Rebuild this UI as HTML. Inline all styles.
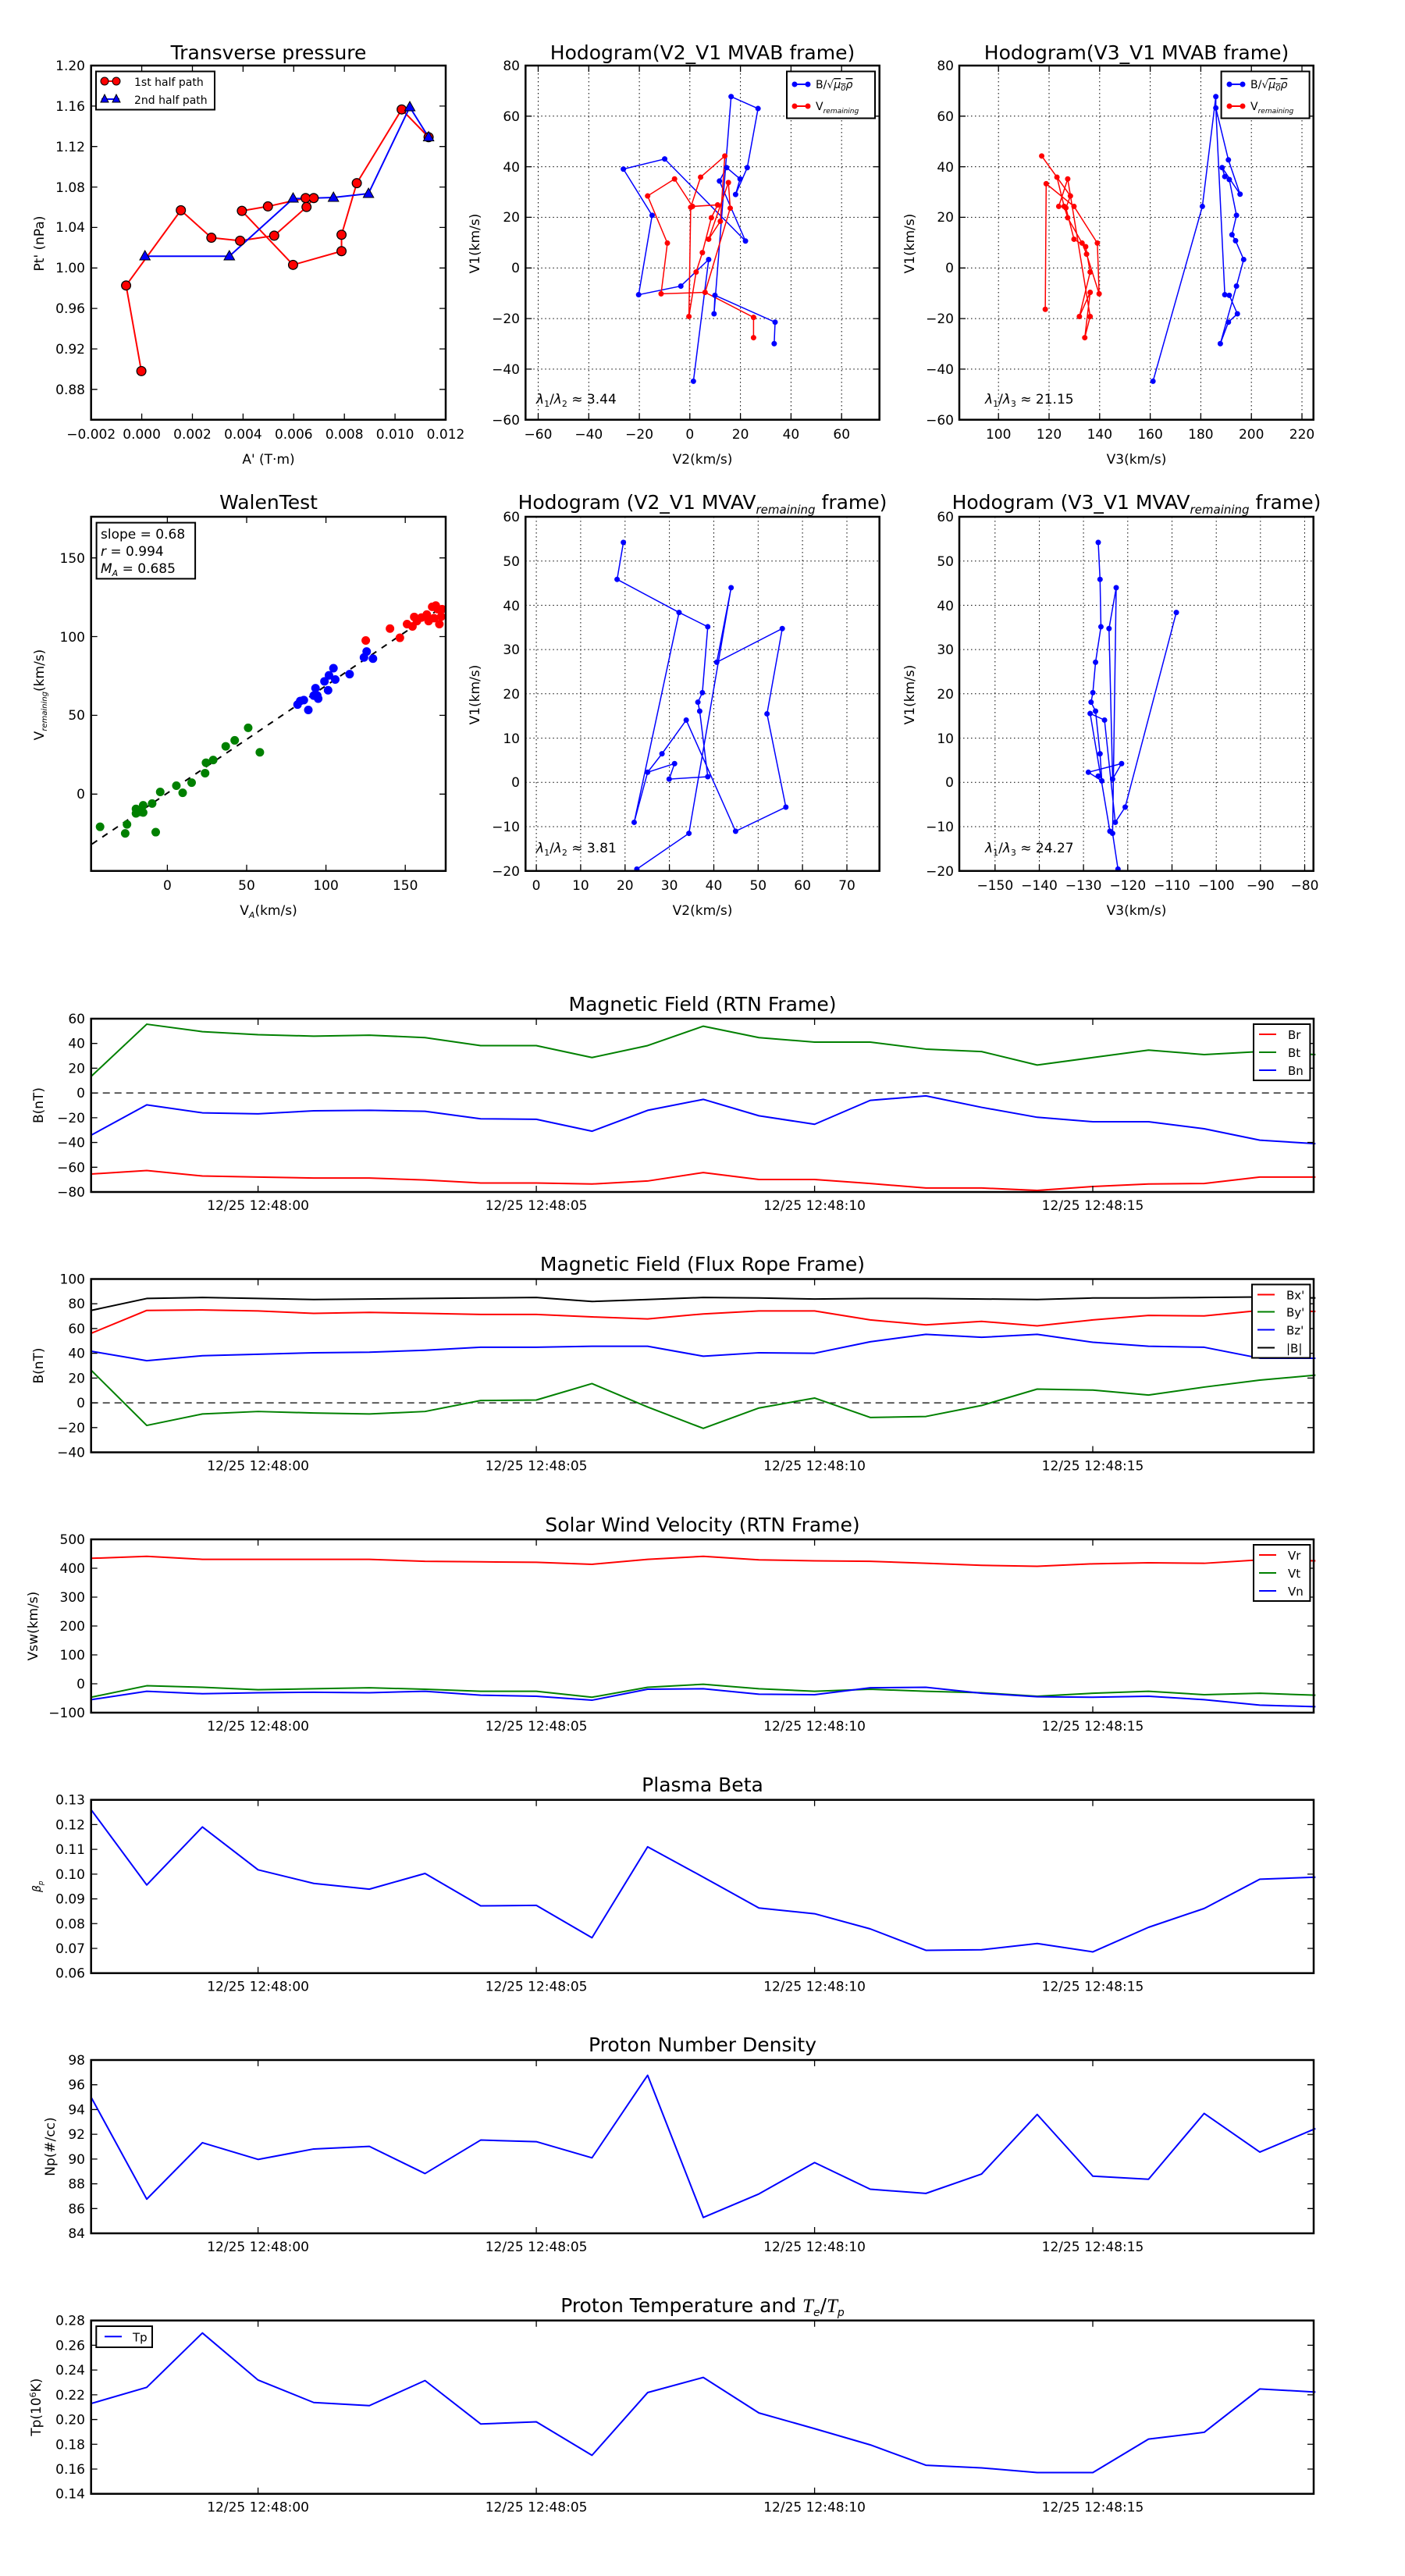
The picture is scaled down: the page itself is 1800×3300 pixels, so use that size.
<!DOCTYPE html>
<html><head><meta charset="utf-8"><style>
html,body{margin:0;padding:0;background:#fff}
svg{display:block}
text{font-family:"DejaVu Sans","Liberation Sans",sans-serif;fill:#000}
.tk{font-size:17px}
.tl{font-size:25px}
.yl{font-size:17px}
.ln{fill:none;stroke-width:2;vector-effect:non-scaling-stroke;stroke-linejoin:round}
.thin{fill:none;stroke-width:1.5;vector-effect:non-scaling-stroke}
.dot{fill:none;stroke-linecap:round;vector-effect:non-scaling-stroke}
.ax{fill:none;stroke:#000;stroke-width:2.5}
.tick{fill:none;stroke:#000;stroke-width:1.3}
.grid{fill:none;stroke:#000;stroke-width:1;stroke-dasharray:1.5,3.5}
</style></head><body>
<svg width="1800" height="3300" viewBox="0 0 1800 3300" xmlns="http://www.w3.org/2000/svg">
<rect width="1800" height="3300" fill="#fff"/>

<!-- ================= ROW 1 ================= -->
<!-- Transverse pressure -->
<text class="tl" x="344" y="76" text-anchor="middle">Transverse pressure</text>
<path class="tick" d="M181.6,537.7v-8M246.5,537.7v-8M311.4,537.7v-8M376.3,537.7v-8M441.2,537.7v-8M506.1,537.7v-8M181.6,84v8M246.5,84v8M311.4,84v8M376.3,84v8M441.2,84v8M506.1,84v8
M116.7,135.9h8M116.7,187.7h8M116.7,239.6h8M116.7,291.4h8M116.7,343.3h8M116.7,395.1h8M116.7,447h8M116.7,498.8h8
M571,135.9h-8M571,187.7h-8M571,239.6h-8M571,291.4h-8M571,343.3h-8M571,395.1h-8M571,447h-8M571,498.8h-8"/>
<g class="tk" text-anchor="end">
<text x="109" y="90">1.20</text><text x="109" y="142">1.16</text><text x="109" y="194">1.12</text><text x="109" y="246">1.08</text><text x="109" y="297">1.04</text><text x="109" y="349">1.00</text><text x="109" y="401">0.96</text><text x="109" y="453">0.92</text><text x="109" y="505">0.88</text>
</g>
<g class="tk" text-anchor="middle">
<text x="116.7" y="562">−0.002</text><text x="181.6" y="562">0.000</text><text x="246.5" y="562">0.002</text><text x="311.4" y="562">0.004</text><text x="376.3" y="562">0.006</text><text x="441.2" y="562">0.008</text><text x="506.1" y="562">0.010</text><text x="571" y="562">0.012</text>
</g>
<text class="yl" x="344" y="594" text-anchor="middle">A' (T·m)</text>
<text class="yl" transform="translate(56,312) rotate(-90)" text-anchor="middle">Pt' (nPa)</text>

<g transform="matrix(1.15,0,0,0.3822,-0.6,0.7)">
<polyline class="ln" stroke="#f00" points="158,1242 141,955 202,703 236,795 268,805 306,788 342,692 350,662 341,662 299,690 270,705 327,886 381,840 381,785 398,612 448,365 478,458"/>
<polyline class="ln" stroke="#00f" points="162,857 256,857 327,664 372,660 411,647 457,357 478,458"/>
<path class="dot" stroke="#000" stroke-width="13" d="M158,1242h0M141,955h0M202,703h0M236,795h0M268,805h0M306,788h0M342,692h0M350,662h0M341,662h0M299,690h0M270,705h0M327,886h0M381,840h0M381,785h0M398,612h0M448,365h0M478,458h0"/>
<path class="dot" stroke="#f00" stroke-width="10.5" d="M158,1242h0M141,955h0M202,703h0M236,795h0M268,805h0M306,788h0M342,692h0M350,662h0M341,662h0M299,690h0M270,705h0M327,886h0M381,840h0M381,785h0M398,612h0M448,365h0M478,458h0"/>
</g>
<g fill="#00f" stroke="#000" stroke-width="1">
<polygon points="185.7,321 179,333 192.4,333"/>
<polygon points="293.8,321 287,333 300.6,333"/>
<polygon points="375.5,247 368.8,259 382.2,259"/>
<polygon points="427.2,246 420.5,258 433.9,258"/>
<polygon points="472.1,241 465.4,253 478.8,253"/>
<polygon points="525,130 518.3,142 531.7,142"/>
<polygon points="549.1,168.5 542.4,180.5 555.8,180.5"/>
</g>
<rect class="ax" x="116.7" y="84" width="454.3" height="453.7"/>
<rect x="123" y="91.5" width="152" height="49" fill="#fff" stroke="#000" stroke-width="2"/>
<line x1="130" y1="104" x2="153" y2="104" stroke="#f00" stroke-width="2"/>
<ellipse cx="134" cy="104" rx="5" ry="5" fill="#f00" stroke="#000"/><ellipse cx="149" cy="104" rx="5" ry="5" fill="#f00" stroke="#000"/>
<text x="172" y="110" font-size="14">1st half path</text>
<line x1="130" y1="127" x2="153" y2="127" stroke="#00f" stroke-width="2"/>
<polygon points="134,121 129,131 139,131" fill="#00f" stroke="#000"/><polygon points="149,121 144,131 154,131" fill="#00f" stroke="#000"/>
<text x="172" y="133" font-size="14">2nd half path</text>

<!-- Hodogram V2_V1 MVAB -->
<text class="tl" x="900" y="76" text-anchor="middle">Hodogram(V2_V1 MVAB frame)</text>
<path class="grid" d="M689.5,84V537.7M754.3,84V537.7M819.1,84V537.7M883.8,84V537.7M948.6,84V537.7M1013.4,84V537.7M1078.2,84V537.7M673.3,148.8H1126.7M673.3,213.6H1126.7M673.3,278.4H1126.7M673.3,343.3H1126.7M673.3,408.1H1126.7M673.3,472.9H1126.7"/>
<path class="tick" d="M689.5,537.7v-8M754.3,537.7v-8M819.1,537.7v-8M883.8,537.7v-8M948.6,537.7v-8M1013.4,537.7v-8M1078.2,537.7v-8M689.5,84v8M754.3,84v8M819.1,84v8M883.8,84v8M948.6,84v8M1013.4,84v8M1078.2,84v8
M673.3,148.8h8M673.3,213.6h8M673.3,278.4h8M673.3,343.3h8M673.3,408.1h8M673.3,472.9h8M1126.7,148.8h-8M1126.7,213.6h-8M1126.7,278.4h-8M1126.7,343.3h-8M1126.7,408.1h-8M1126.7,472.9h-8"/>
<g class="tk" text-anchor="end">
<text x="666" y="90">80</text><text x="666" y="155">60</text><text x="666" y="220">40</text><text x="666" y="284">20</text><text x="666" y="349">0</text><text x="666" y="414">−20</text><text x="666" y="479">−40</text><text x="666" y="544">−60</text>
</g>
<g class="tk" text-anchor="middle">
<text x="689.5" y="562">−60</text><text x="754.3" y="562">−40</text><text x="819.1" y="562">−20</text><text x="883.8" y="562">0</text><text x="948.6" y="562">20</text><text x="1013.4" y="562">40</text><text x="1078.2" y="562">60</text>
</g>
<text class="yl" x="900" y="594" text-anchor="middle">V2(km/s)</text>
<text class="yl" transform="translate(614,312) rotate(-90)" text-anchor="middle">V1(km/s)</text>
<g transform="matrix(1.15,0,0,0.3822,-0.6,0.7)">
<polyline class="thin" stroke="#00f" points="773,1276 790,868 759,957 712,986 727,720 695,565 741,531 831,806 802,605 810,560 825,598 820,650 833,560 845,362 815,322 796,1050 797,988 864,1078 863,1150"/>
<polyline class="thin" stroke="#f00" points="840,1130 840,1062 786,978 737,983 744,813 722,655 752,598 772,690 800,685 793,728 783,845 776,910 768,1059 770,693 781,592 808,521 803,740 790,800 812,610 814,696 786,978"/>
<path class="dot" stroke="#00f" stroke-width="7" d="M773,1276h0M790,868h0M759,957h0M712,986h0M727,720h0M695,565h0M741,531h0M831,806h0M802,605h0M810,560h0M825,598h0M820,650h0M833,560h0M845,362h0M815,322h0M796,1050h0M797,988h0M864,1078h0M863,1150h0"/>
<path class="dot" stroke="#f00" stroke-width="7" d="M840,1130h0M840,1062h0M786,978h0M737,983h0M744,813h0M722,655h0M752,598h0M772,690h0M800,685h0M793,728h0M783,845h0M776,910h0M768,1059h0M770,693h0M781,592h0M808,521h0M803,740h0M790,800h0M812,610h0M814,696h0"/>
</g>
<rect class="ax" x="673.3" y="84" width="453.4" height="453.7"/>
<rect x="1008" y="91.5" width="113" height="60" fill="#fff" stroke="#000" stroke-width="2"/>
<line x1="1015" y1="108" x2="1038" y2="108" stroke="#00f" stroke-width="2"/><circle cx="1018" cy="108" r="3.5" fill="#00f"/><circle cx="1035" cy="108" r="3.5" fill="#00f"/>
<text x="1045" y="113" font-size="14">B/√<tspan font-style="italic" text-decoration="overline">μ<tspan font-size="10" dy="3">0</tspan><tspan dy="-3">ρ</tspan></tspan></text>
<line x1="1015" y1="136" x2="1038" y2="136" stroke="#f00" stroke-width="2"/><circle cx="1018" cy="136" r="3.5" fill="#f00"/><circle cx="1035" cy="136" r="3.5" fill="#f00"/>
<text x="1045" y="141" font-size="14">V<tspan font-size="9" font-style="italic" dy="4">remaining</tspan></text>
<text x="687" y="517" font-size="17"><tspan font-style="italic">λ</tspan><tspan font-size="11" dy="4">1</tspan><tspan dy="-4">/</tspan><tspan font-style="italic">λ</tspan><tspan font-size="11" dy="4">2</tspan><tspan dy="-4"> ≈ 3.44</tspan></text>

<!-- Hodogram V3_V1 MVAB -->
<text class="tl" x="1456" y="76" text-anchor="middle">Hodogram(V3_V1 MVAB frame)</text>
<path class="grid" d="M1279.2,84V537.7M1344,84V537.7M1408.8,84V537.7M1473.6,84V537.7M1538.4,84V537.7M1603.2,84V537.7M1668,84V537.7M1229,148.8H1682.7M1229,213.6H1682.7M1229,278.4H1682.7M1229,343.3H1682.7M1229,408.1H1682.7M1229,472.9H1682.7"/>
<path class="tick" d="M1279.2,537.7v-8M1344,537.7v-8M1408.8,537.7v-8M1473.6,537.7v-8M1538.4,537.7v-8M1603.2,537.7v-8M1668,537.7v-8M1279.2,84v8M1344,84v8M1408.8,84v8M1473.6,84v8M1538.4,84v8M1603.2,84v8M1668,84v8
M1229,148.8h8M1229,213.6h8M1229,278.4h8M1229,343.3h8M1229,408.1h8M1229,472.9h8M1682.7,148.8h-8M1682.7,213.6h-8M1682.7,278.4h-8M1682.7,343.3h-8M1682.7,408.1h-8M1682.7,472.9h-8"/>
<g class="tk" text-anchor="end">
<text x="1222" y="90">80</text><text x="1222" y="155">60</text><text x="1222" y="220">40</text><text x="1222" y="284">20</text><text x="1222" y="349">0</text><text x="1222" y="414">−20</text><text x="1222" y="479">−40</text><text x="1222" y="544">−60</text>
</g>
<g class="tk" text-anchor="middle">
<text x="1279.2" y="562">100</text><text x="1344" y="562">120</text><text x="1408.8" y="562">140</text><text x="1473.6" y="562">160</text><text x="1538.4" y="562">180</text><text x="1603.2" y="562">200</text><text x="1668" y="562">220</text>
</g>
<text class="yl" x="1456" y="594" text-anchor="middle">V3(km/s)</text>
<text class="yl" transform="translate(1171,312) rotate(-90)" text-anchor="middle">V1(km/s)</text>
<g transform="matrix(1.15,0,0,0.3822,-0.6,0.7)">
<polyline class="thin" stroke="#00f" points="1285,1276 1340,690 1355,322 1355,360 1365,986 1370,988 1379,1050 1369,1078 1360,1150 1378,957 1386,868 1377,805 1373,785 1378,720 1370,600 1365,590 1362,560 1382,649 1369,534 1355,360"/>
<polyline class="thin" stroke="#f00" points="1165,1035 1166,614 1197,690 1223,813 1225,983 1211,850 1206,813 1190,728 1186,690 1178,592 1161,521 1193,655 1188,695 1197,800 1210,825 1215,910 1203,1059 1215,978 1209,1130 1215,1059 1190,598 1180,690"/>
<path class="dot" stroke="#00f" stroke-width="7" d="M1285,1276h0M1340,690h0M1355,322h0M1355,360h0M1365,986h0M1370,988h0M1379,1050h0M1369,1078h0M1360,1150h0M1378,957h0M1386,868h0M1377,805h0M1373,785h0M1378,720h0M1370,600h0M1365,590h0M1362,560h0M1382,649h0M1369,534h0"/>
<path class="dot" stroke="#f00" stroke-width="7" d="M1165,1035h0M1166,614h0M1197,690h0M1223,813h0M1225,983h0M1211,850h0M1206,813h0M1190,728h0M1186,690h0M1178,592h0M1161,521h0M1193,655h0M1188,695h0M1197,800h0M1210,825h0M1215,910h0M1203,1059h0M1215,978h0M1209,1130h0M1215,1059h0M1190,598h0M1180,690h0"/>
</g>
<rect class="ax" x="1229" y="84" width="453.7" height="453.7"/>
<rect x="1564.6" y="91.5" width="113" height="60" fill="#fff" stroke="#000" stroke-width="2"/>
<line x1="1572" y1="108" x2="1595" y2="108" stroke="#00f" stroke-width="2"/><circle cx="1575" cy="108" r="3.5" fill="#00f"/><circle cx="1592" cy="108" r="3.5" fill="#00f"/>
<text x="1602" y="113" font-size="14">B/√<tspan font-style="italic" text-decoration="overline">μ<tspan font-size="10" dy="3">0</tspan><tspan dy="-3">ρ</tspan></tspan></text>
<line x1="1572" y1="136" x2="1595" y2="136" stroke="#f00" stroke-width="2"/><circle cx="1575" cy="136" r="3.5" fill="#f00"/><circle cx="1592" cy="136" r="3.5" fill="#f00"/>
<text x="1602" y="141" font-size="14">V<tspan font-size="9" font-style="italic" dy="4">remaining</tspan></text>
<text x="1262" y="517" font-size="17"><tspan font-style="italic">λ</tspan><tspan font-size="11" dy="4">1</tspan><tspan dy="-4">/</tspan><tspan font-style="italic">λ</tspan><tspan font-size="11" dy="4">3</tspan><tspan dy="-4"> ≈ 21.15</tspan></text>

<!-- ================= ROW 2 ================= -->
<!-- Walen -->
<text class="tl" x="344" y="652" text-anchor="middle">WalenTest</text>
<path class="tick" d="M214.4,1115.7v-8M316,1115.7v-8M417.6,1115.7v-8M519.2,1115.7v-8M214.4,662v8M316,662v8M417.6,662v8M519.2,662v8
M116.7,714.7h8M116.7,815.5h8M116.7,916.4h8M116.7,1017.3h8M571,714.7h-8M571,815.5h-8M571,916.4h-8M571,1017.3h-8"/>
<g class="tk" text-anchor="end">
<text x="109" y="721">150</text><text x="109" y="822">100</text><text x="109" y="922">50</text><text x="109" y="1023">0</text>
</g>
<g class="tk" text-anchor="middle">
<text x="214.4" y="1140">0</text><text x="316" y="1140">50</text><text x="417.6" y="1140">100</text><text x="519.2" y="1140">150</text>
</g>
<text class="yl" x="344" y="1172" text-anchor="middle">V<tspan font-size="11" font-style="italic" dy="4">A</tspan><tspan dy="-4">(km/s)</tspan></text>
<text class="yl" transform="translate(56,890) rotate(-90)" text-anchor="middle">V<tspan font-size="10" font-style="italic" dy="4">remaining</tspan><tspan dy="-4">(km/s)</tspan></text>
<g transform="matrix(1.15,0,0,0.3819,-0.6,600.9)">
<line x1="103" y1="1258" x2="493" y2="463" stroke="#000" stroke-width="2" stroke-dasharray="8,8" vector-effect="non-scaling-stroke"/>
<path class="dot" stroke="#008000" stroke-width="11" d="M112,1200h0M140,1222h0M142,1192h0M152,1155h0M160,1128h0M160,1152h0M170,1122h0M174,1218h0M179,1083h0M197,1062h0M204,1086h0M214,1052h0M229,1020h0M230,985h0M238,976h0M252,930h0M262,910h0M277,868h0M290,950h0M152,1140h0M156,1150h0"/>
<path class="dot" stroke="#00f" stroke-width="11" d="M332,790h0M335,778h0M339,775h0M344,808h0M350,760h0M352,735h0M354,760h0M355,770h0M362,712h0M366,742h0M367,692h0M372,668h0M374,706h0M390,688h0M406,632h0M409,612h0M416,636h0"/>
<path class="dot" stroke="#f00" stroke-width="11" d="M408,575h0M435,535h0M446,566h0M454,520h0M460,528h0M462,496h0M465,510h0M470,498h0M476,488h0M482,462h0M484,500h0M488,470h0M490,520h0M492,495h0M493,470h0M478,510h0M486,458h0"/>
</g>
<rect x="571.5" y="650" width="20" height="480" fill="#fff"/>
<rect x="100" y="1116.5" width="470" height="8" fill="#fff"/>
<rect class="ax" x="116.7" y="662" width="454.3" height="453.7"/>
<rect x="123.6" y="669.6" width="126.5" height="71.8" fill="#fff" stroke="#000" stroke-width="2"/>
<text x="129" y="690" font-size="17">slope = 0.68</text>
<text x="129" y="712" font-size="17"><tspan font-style="italic">r</tspan> = 0.994</text>
<text x="129" y="734" font-size="17"><tspan font-style="italic">M</tspan><tspan font-size="11" font-style="italic" dy="4">A</tspan><tspan dy="-4"> = 0.685</tspan></text>

<!-- Hodogram V2_V1 MVAV -->
<text class="tl" x="900" y="652" text-anchor="middle">Hodogram (V2_V1 MVAV<tspan font-size="15" font-style="italic" dy="6">remaining</tspan><tspan dy="-6"> frame)</tspan></text>
<path class="grid" d="M687.1,662V1115.7M743.9,662V1115.7M800.8,662V1115.7M857.6,662V1115.7M914.5,662V1115.7M971.3,662V1115.7M1028.1,662V1115.7M1085,662V1115.7
M673.3,718.7H1126.7M673.3,775.4H1126.7M673.3,832.1H1126.7M673.3,888.8H1126.7M673.3,945.6H1126.7M673.3,1002.3H1126.7M673.3,1059H1126.7"/>
<path class="tick" d="M687.1,1115.7v-8M743.9,1115.7v-8M800.8,1115.7v-8M857.6,1115.7v-8M914.5,1115.7v-8M971.3,1115.7v-8M1028.1,1115.7v-8M1085,1115.7v-8"/>
<g class="tk" text-anchor="end">
<text x="666" y="668">60</text><text x="666" y="725">50</text><text x="666" y="782">40</text><text x="666" y="838">30</text><text x="666" y="895">20</text><text x="666" y="952">10</text><text x="666" y="1008">0</text><text x="666" y="1065">−10</text><text x="666" y="1122">−20</text>
</g>
<g class="tk" text-anchor="middle">
<text x="687.1" y="1140">0</text><text x="743.9" y="1140">10</text><text x="800.8" y="1140">20</text><text x="857.6" y="1140">30</text><text x="914.5" y="1140">40</text><text x="971.3" y="1140">50</text><text x="1028.1" y="1140">60</text><text x="1085" y="1140">70</text>
</g>
<text class="yl" x="900" y="1172" text-anchor="middle">V2(km/s)</text>
<text class="yl" transform="translate(614,890) rotate(-90)" text-anchor="middle">V1(km/s)</text>
<g transform="matrix(1.15,0,0,0.3819,-0.6,600.9)">
<polyline class="thin" stroke="#00f" points="695,246 688,370 757,481 789,529 783,750 778,782 780,812 789,1032 746,1040 752,988 722,1017 738,955 765,842 820,1215 876,1134 855,821 872,535 799,648 815,398 768,1222 710,1342"/>
<polyline class="thin" stroke="#00f" points="757,481 707,1185 722,1017"/>
<path class="dot" stroke="#00f" stroke-width="7" d="M695,246h0M688,370h0M757,481h0M789,529h0M783,750h0M778,782h0M780,812h0M789,1032h0M746,1040h0M752,988h0M722,1017h0M738,955h0M765,842h0M820,1215h0M876,1134h0M855,821h0M872,535h0M799,648h0M815,398h0M768,1222h0M710,1342h0M707,1185h0"/>
</g>
<rect class="ax" x="673.3" y="662" width="453.4" height="453.7"/>
<text x="687" y="1092" font-size="17"><tspan font-style="italic">λ</tspan><tspan font-size="11" dy="4">1</tspan><tspan dy="-4">/</tspan><tspan font-style="italic">λ</tspan><tspan font-size="11" dy="4">2</tspan><tspan dy="-4"> ≈ 3.81</tspan></text>

<!-- Hodogram V3_V1 MVAV -->
<text class="tl" x="1456" y="652" text-anchor="middle">Hodogram (V3_V1 MVAV<tspan font-size="15" font-style="italic" dy="6">remaining</tspan><tspan dy="-6"> frame)</tspan></text>
<path class="grid" d="M1274.8,662V1115.7M1331.5,662V1115.7M1388.1,662V1115.7M1444.8,662V1115.7M1501.5,662V1115.7M1558.2,662V1115.7M1614.8,662V1115.7M1671.5,662V1115.7
M1229,718.7H1682.7M1229,775.4H1682.7M1229,832.1H1682.7M1229,888.8H1682.7M1229,945.6H1682.7M1229,1002.3H1682.7M1229,1059H1682.7"/>
<path class="tick" d="M1274.8,1115.7v-8M1331.5,1115.7v-8M1388.1,1115.7v-8M1444.8,1115.7v-8M1501.5,1115.7v-8M1558.2,1115.7v-8M1614.8,1115.7v-8M1671.5,1115.7v-8"/>
<g class="tk" text-anchor="end">
<text x="1222" y="668">60</text><text x="1222" y="725">50</text><text x="1222" y="782">40</text><text x="1222" y="838">30</text><text x="1222" y="895">20</text><text x="1222" y="952">10</text><text x="1222" y="1008">0</text><text x="1222" y="1065">−10</text><text x="1222" y="1122">−20</text>
</g>
<g class="tk" text-anchor="middle">
<text x="1274.8" y="1140">−150</text><text x="1331.5" y="1140">−140</text><text x="1388.1" y="1140">−130</text><text x="1444.8" y="1140">−120</text><text x="1501.5" y="1140">−110</text><text x="1558.2" y="1140">−100</text><text x="1614.8" y="1140">−90</text><text x="1671.5" y="1140">−80</text>
</g>
<text class="yl" x="1456" y="1172" text-anchor="middle">V3(km/s)</text>
<text class="yl" transform="translate(1171,890) rotate(-90)" text-anchor="middle">V1(km/s)</text>
<g transform="matrix(1.15,0,0,0.3819,-0.6,600.9)">
<polyline class="thin" stroke="#00f" points="1224,246 1226,370 1227,529 1221,648 1218,750 1216,782 1221,812 1226,955 1228,1046 1213,1017 1250,988 1240,1040 1236,535 1244,398 1240,1222 1237,1215 1215,820 1231,842 1243,1185 1254,1134 1311,481"/>
<polyline class="thin" stroke="#00f" points="1240,1222 1246,1342"/>
<path class="dot" stroke="#00f" stroke-width="7" d="M1224,246h0M1226,370h0M1227,529h0M1221,648h0M1218,750h0M1216,782h0M1221,812h0M1226,955h0M1228,1046h0M1213,1017h0M1250,988h0M1240,1040h0M1236,535h0M1244,398h0M1240,1222h0M1237,1215h0M1215,820h0M1231,842h0M1243,1185h0M1254,1134h0M1311,481h0M1246,1342h0M1224,1030h0"/>
</g>
<rect class="ax" x="1229" y="662" width="453.7" height="453.7"/>
<text x="1262" y="1092" font-size="17"><tspan font-style="italic">λ</tspan><tspan font-size="11" dy="4">1</tspan><tspan dy="-4">/</tspan><tspan font-style="italic">λ</tspan><tspan font-size="11" dy="4">3</tspan><tspan dy="-4"> ≈ 24.27</tspan></text>

<!-- ================= TIME SERIES ================= -->
<!-- Magnetic Field RTN : top 1305 -->
<text class="tl" x="900" y="1295" text-anchor="middle">Magnetic Field (RTN Frame)</text>
<line x1="116.7" y1="1400.1" x2="1683" y2="1400.1" stroke="#000" stroke-width="1.3" stroke-dasharray="9,6"/>
<g transform="matrix(1.15,0,0,0.6377,-0.6,1250.2)">
<polyline class="ln" stroke="#f00" points="102,398 164,391 226,402 288,404 350,406 412,406 474,410 536,416 598,416 660,418 722,412 784,395 846,409 908,409 970,417 1032,426 1094,426 1156,431 1218,423 1280,418 1342,417 1404,404 1466,404"/>
<polyline class="ln" stroke="#008000" points="102,202 164,97 226,112 288,118 350,121 412,119 474,124 536,140 598,140 660,164 722,140 784,101 846,124 908,133 970,133 1032,147 1094,152 1156,179 1218,164 1280,149 1342,158 1404,152 1466,158"/>
<polyline class="ln" stroke="#00f" points="102,320 164,259 226,275 288,277 350,271 412,270 474,272 536,287 598,288 660,312 722,270 784,248 846,281 908,298 970,250 1032,241 1094,264 1156,284 1218,293 1280,293 1342,307 1404,330 1466,337"/>
</g>
<g transform="translate(0,1305)">
<path class="tick" d="M330.6,0v8M687.1,0v8M1043.6,0v8M1400,0v8M330.6,222v-8M687.1,222v-8M1043.6,222v-8M1400,222v-8M116.7,31.71h8M116.7,63.43h8M116.7,95.14h8M116.7,126.86h8M116.7,158.57h8M116.7,190.29h8M1683,31.71h-8M1683,63.43h-8M1683,95.14h-8M1683,126.86h-8M1683,158.57h-8M1683,190.29h-8"/>
<g class="tk" text-anchor="end"><text x="109" y="6">60</text><text x="109" y="37.7">40</text><text x="109" y="69.4">20</text><text x="109" y="101.1">0</text><text x="109" y="132.9">−20</text><text x="109" y="164.6">−40</text><text x="109" y="196.3">−60</text><text x="109" y="228">−80</text></g>
<g class="tk" text-anchor="middle"><text x="330.6" y="245">12/25 12:48:00</text><text x="687.1" y="245">12/25 12:48:05</text><text x="1043.6" y="245">12/25 12:48:10</text><text x="1400" y="245">12/25 12:48:15</text></g>
<text class="yl" transform="translate(55,111) rotate(-90)" text-anchor="middle">B(nT)</text>
<rect class="ax" x="116.7" y="0" width="1566.3" height="222"/>
<rect x="1606" y="7" width="72.4" height="72" fill="#fff" stroke="#000" stroke-width="2"/>
<line x1="1613" y1="20" x2="1635" y2="20" stroke="#f00" stroke-width="2"/><text x="1650" y="26" font-size="15">Br</text>
<line x1="1613" y1="43" x2="1635" y2="43" stroke="#008000" stroke-width="2"/><text x="1650" y="49" font-size="15">Bt</text>
<line x1="1613" y1="66" x2="1635" y2="66" stroke="#00f" stroke-width="2"/><text x="1650" y="72" font-size="15">Bn</text>
</g>

<!-- Magnetic Field Flux Rope : top 1638.5 -->
<text class="tl" x="900" y="1628" text-anchor="middle">Magnetic Field (Flux Rope Frame)</text>
<line x1="116.7" y1="1797.1" x2="1683" y2="1797.1" stroke="#000" stroke-width="1.3" stroke-dasharray="9,6"/>
<g transform="matrix(1.15,0,0,0.6377,-0.6,1250.2)">
<polyline class="ln" stroke="#f00" points="102,718 164,672 226,671 288,673 350,678 412,676 474,678 536,680 598,680 660,685 722,689 784,679 846,673 908,673 970,691 1032,701 1094,694 1156,703 1218,691 1280,682 1342,683 1404,672 1466,674"/>
<polyline class="ln" stroke="#008000" points="102,792 164,903 226,880 288,875 350,878 412,880 474,875 536,853 598,852 660,819 722,866 784,909 846,868 908,848 970,887 1032,885 1094,863 1156,830 1218,832 1280,842 1342,826 1404,812 1466,802"/>
<polyline class="ln" stroke="#00f" points="102,754 164,773 226,763 288,760 350,757 412,756 474,752 536,746 598,746 660,744 722,744 784,764 846,757 908,758 970,735 1032,720 1094,726 1156,720 1218,736 1280,744 1342,746 1404,768 1466,768"/>
<polyline class="ln" stroke="#000" points="102,672 164,648 226,646 288,648 350,650 412,649 474,648 536,647 598,646 660,654 722,650 784,646 846,647 908,649 970,648 1032,648 1094,649 1156,650 1218,647 1280,647 1342,646 1404,645 1466,647"/>
</g>
<g transform="translate(0,1638.5)">
<path class="tick" d="M330.6,0v8M687.1,0v8M1043.6,0v8M1400,0v8M330.6,222v-8M687.1,222v-8M1043.6,222v-8M1400,222v-8M116.7,31.71h8M116.7,63.43h8M116.7,95.14h8M116.7,126.86h8M116.7,158.57h8M116.7,190.29h8M1683,31.71h-8M1683,63.43h-8M1683,95.14h-8M1683,126.86h-8M1683,158.57h-8M1683,190.29h-8"/>
<g class="tk" text-anchor="end"><text x="109" y="6">100</text><text x="109" y="37.7">80</text><text x="109" y="69.4">60</text><text x="109" y="101.1">40</text><text x="109" y="132.9">20</text><text x="109" y="164.6">0</text><text x="109" y="196.3">−20</text><text x="109" y="228">−40</text></g>
<g class="tk" text-anchor="middle"><text x="330.6" y="245">12/25 12:48:00</text><text x="687.1" y="245">12/25 12:48:05</text><text x="1043.6" y="245">12/25 12:48:10</text><text x="1400" y="245">12/25 12:48:15</text></g>
<text class="yl" transform="translate(55,111) rotate(-90)" text-anchor="middle">B(nT)</text>
<rect class="ax" x="116.7" y="0" width="1566.3" height="222"/>
<rect x="1604" y="7" width="74.4" height="94" fill="#fff" stroke="#000" stroke-width="2"/>
<line x1="1611" y1="20" x2="1633" y2="20" stroke="#f00" stroke-width="2"/><text x="1648" y="26" font-size="15">Bx'</text>
<line x1="1611" y1="42" x2="1633" y2="42" stroke="#008000" stroke-width="2"/><text x="1648" y="48" font-size="15">By'</text>
<line x1="1611" y1="65" x2="1633" y2="65" stroke="#00f" stroke-width="2"/><text x="1648" y="71" font-size="15">Bz'</text>
<line x1="1611" y1="88" x2="1633" y2="88" stroke="#000" stroke-width="2"/><text x="1648" y="94" font-size="15">|B|</text>
</g>

<!-- Solar Wind Velocity : top 1972 -->
<text class="tl" x="900" y="1962" text-anchor="middle">Solar Wind Velocity (RTN Frame)</text>
<g transform="matrix(1.15,0,0,0.6377,-0.6,1250.2)">
<polyline class="ln" stroke="#f00" points="102,1170 164,1166 226,1172 288,1172 350,1172 412,1172 474,1176 536,1177 598,1178 660,1182 722,1172 784,1166 846,1173 908,1175 970,1176 1032,1180 1094,1184 1156,1186 1218,1181 1280,1179 1342,1180 1404,1173 1466,1175"/>
<polyline class="ln" stroke="#008000" points="102,1449 164,1426 226,1429 288,1434 350,1432 412,1430 474,1433 536,1437 598,1437 660,1449 722,1429 784,1423 846,1432 908,1437 970,1433 1032,1437 1094,1440 1156,1447 1218,1441 1280,1437 1342,1444 1404,1441 1466,1445"/>
<polyline class="ln" stroke="#00f" points="102,1454 164,1437 226,1442 288,1440 350,1439 412,1440 474,1437 536,1445 598,1447 660,1455 722,1433 784,1432 846,1443 908,1444 970,1430 1032,1429 1094,1441 1156,1448 1218,1449 1280,1447 1342,1454 1404,1465 1466,1468"/>
</g>
<g transform="translate(0,1972)">
<path class="tick" d="M330.6,0v8M687.1,0v8M1043.6,0v8M1400,0v8M330.6,222v-8M687.1,222v-8M1043.6,222v-8M1400,222v-8M116.7,37h8M116.7,74h8M116.7,111h8M116.7,148h8M116.7,185h8M1683,37h-8M1683,74h-8M1683,111h-8M1683,148h-8M1683,185h-8"/>
<g class="tk" text-anchor="end"><text x="109" y="6">500</text><text x="109" y="43">400</text><text x="109" y="80">300</text><text x="109" y="117">200</text><text x="109" y="154">100</text><text x="109" y="191">0</text><text x="109" y="228">−100</text></g>
<g class="tk" text-anchor="middle"><text x="330.6" y="245">12/25 12:48:00</text><text x="687.1" y="245">12/25 12:48:05</text><text x="1043.6" y="245">12/25 12:48:10</text><text x="1400" y="245">12/25 12:48:15</text></g>
<text class="yl" transform="translate(48,111) rotate(-90)" text-anchor="middle">Vsw(km/s)</text>
<rect class="ax" x="116.7" y="0" width="1566.3" height="222"/>
<rect x="1606" y="7" width="72.4" height="72" fill="#fff" stroke="#000" stroke-width="2"/>
<line x1="1613" y1="20" x2="1635" y2="20" stroke="#f00" stroke-width="2"/><text x="1650" y="26" font-size="15">Vr</text>
<line x1="1613" y1="43" x2="1635" y2="43" stroke="#008000" stroke-width="2"/><text x="1650" y="49" font-size="15">Vt</text>
<line x1="1613" y1="66" x2="1635" y2="66" stroke="#00f" stroke-width="2"/><text x="1650" y="72" font-size="15">Vn</text>
</g>

<!-- Plasma Beta : top 2305.7 -->
<text class="tl" x="900" y="2295" text-anchor="middle">Plasma Beta</text>
<g transform="matrix(1.15,0,0,0.6697,-0.6,2250)">
<polyline class="ln" stroke="#00f" points="102,102 164,246 226,135 288,217 350,243 412,254 474,224 536,286 598,285 660,347 722,173 784,231 846,290 908,301 970,330 1032,371 1094,370 1156,358 1218,374 1280,327 1342,291 1404,235 1466,231"/>
</g>
<g transform="translate(0,2305.7)">
<path class="tick" d="M330.6,0v8M687.1,0v8M1043.6,0v8M1400,0v8M330.6,222v-8M687.1,222v-8M1043.6,222v-8M1400,222v-8M116.7,31.71h8M116.7,63.43h8M116.7,95.14h8M116.7,126.86h8M116.7,158.57h8M116.7,190.29h8M1683,31.71h-8M1683,63.43h-8M1683,95.14h-8M1683,126.86h-8M1683,158.57h-8M1683,190.29h-8"/>
<g class="tk" text-anchor="end"><text x="109" y="6">0.13</text><text x="109" y="37.7">0.12</text><text x="109" y="69.4">0.11</text><text x="109" y="101.1">0.10</text><text x="109" y="132.9">0.09</text><text x="109" y="164.6">0.08</text><text x="109" y="196.3">0.07</text><text x="109" y="228">0.06</text></g>
<g class="tk" text-anchor="middle"><text x="330.6" y="245">12/25 12:48:00</text><text x="687.1" y="245">12/25 12:48:05</text><text x="1043.6" y="245">12/25 12:48:10</text><text x="1400" y="245">12/25 12:48:15</text></g>
<text transform="translate(52,111) rotate(-90)" text-anchor="middle" font-size="14" font-style="italic">β<tspan font-size="9" dy="3">p</tspan></text>
<rect class="ax" x="116.7" y="0" width="1566.3" height="222"/>
</g>

<!-- Proton Number Density : top 2639 -->
<text class="tl" x="900" y="2628" text-anchor="middle">Proton Number Density</text>
<g transform="matrix(1.15,0,0,0.6697,-0.6,2250)">
<polyline class="ln" stroke="#00f" points="102,652 164,847 226,739 288,771 350,751 412,746 474,798 536,734 598,737 660,768 722,610 784,882 846,837 908,777 970,828 1032,836 1094,799 1156,685 1218,803 1280,809 1342,683 1404,757 1466,712"/>
</g>
<g transform="translate(0,2639)">
<path class="tick" d="M330.6,0v8M687.1,0v8M1043.6,0v8M1400,0v8M330.6,222v-8M687.1,222v-8M1043.6,222v-8M1400,222v-8M116.7,31.71h8M116.7,63.43h8M116.7,95.14h8M116.7,126.86h8M116.7,158.57h8M116.7,190.29h8M1683,31.71h-8M1683,63.43h-8M1683,95.14h-8M1683,126.86h-8M1683,158.57h-8M1683,190.29h-8"/>
<g class="tk" text-anchor="end"><text x="109" y="6">98</text><text x="109" y="37.7">96</text><text x="109" y="69.4">94</text><text x="109" y="101.1">92</text><text x="109" y="132.9">90</text><text x="109" y="164.6">88</text><text x="109" y="196.3">86</text><text x="109" y="228">84</text></g>
<g class="tk" text-anchor="middle"><text x="330.6" y="245">12/25 12:48:00</text><text x="687.1" y="245">12/25 12:48:05</text><text x="1043.6" y="245">12/25 12:48:10</text><text x="1400" y="245">12/25 12:48:15</text></g>
<text class="yl" transform="translate(70,111) rotate(-90)" text-anchor="middle">Np(#/cc)</text>
<rect class="ax" x="116.7" y="0" width="1566.3" height="222"/>
</g>

<!-- Proton Temperature : top 2972.7 -->
<text class="tl" x="900" y="2962" text-anchor="middle">Proton Temperature and <tspan font-style="italic" font-family="Liberation Serif, serif">T</tspan><tspan font-size="14" font-style="italic" dy="5">e</tspan><tspan dy="-5">/</tspan><tspan font-style="italic" font-family="Liberation Serif, serif">T</tspan><tspan font-size="14" font-style="italic" dy="5">p</tspan></text>
<g transform="matrix(1.15,0,0,0.6697,-0.6,2250)">
<polyline class="ln" stroke="#00f" points="102,1238 164,1207 226,1103 288,1193 350,1236 412,1242 474,1194 536,1277 598,1273 660,1337 722,1217 784,1188 846,1256 908,1286 970,1317 1032,1356 1094,1361 1156,1370 1218,1370 1280,1306 1342,1293 1404,1210 1466,1216"/>
</g>
<g transform="translate(0,2972.7)">
<path class="tick" d="M330.6,0v8M687.1,0v8M1043.6,0v8M1400,0v8M330.6,222v-8M687.1,222v-8M1043.6,222v-8M1400,222v-8M116.7,31.71h8M116.7,63.43h8M116.7,95.14h8M116.7,126.86h8M116.7,158.57h8M116.7,190.29h8M1683,31.71h-8M1683,63.43h-8M1683,95.14h-8M1683,126.86h-8M1683,158.57h-8M1683,190.29h-8"/>
<g class="tk" text-anchor="end"><text x="109" y="6">0.28</text><text x="109" y="37.7">0.26</text><text x="109" y="69.4">0.24</text><text x="109" y="101.1">0.22</text><text x="109" y="132.9">0.20</text><text x="109" y="164.6">0.18</text><text x="109" y="196.3">0.16</text><text x="109" y="228">0.14</text></g>
<g class="tk" text-anchor="middle"><text x="330.6" y="245">12/25 12:48:00</text><text x="687.1" y="245">12/25 12:48:05</text><text x="1043.6" y="245">12/25 12:48:10</text><text x="1400" y="245">12/25 12:48:15</text></g>
<text class="yl" transform="translate(52,111) rotate(-90)" text-anchor="middle">Tp(10<tspan font-size="11" dy="-6">6</tspan><tspan dy="6">K)</tspan></text>
<rect class="ax" x="116.7" y="0" width="1566.3" height="222"/>
<rect x="123.3" y="7.3" width="71.7" height="27" fill="#fff" stroke="#000" stroke-width="2"/>
<line x1="134" y1="20.5" x2="156" y2="20.5" stroke="#00f" stroke-width="2"/><text x="170" y="27" font-size="15">Tp</text>
</g>
</svg>
</body></html>
